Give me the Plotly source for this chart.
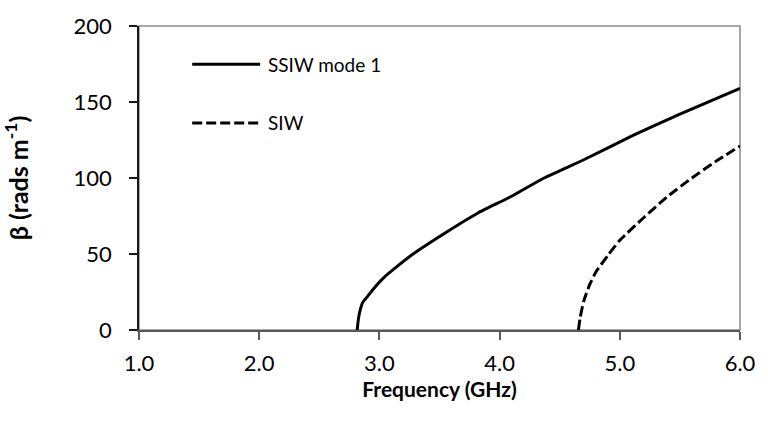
import plotly.graph_objects as go

# ---- data ----
ssiw_freq = [2.815, 2.825, 2.84, 2.86, 2.90, 2.95, 3.03, 3.15, 3.28, 3.55, 3.82, 4.10, 4.37, 4.70, 5.11, 5.50, 6.00]
ssiw_beta = [0, 7, 13, 18, 22, 27, 34, 42, 50, 64, 77, 88, 100, 112, 128, 142, 159]
siw_freq = [4.656, 4.67, 4.70, 4.75, 4.80, 4.90, 5.00, 5.20, 5.40, 5.60, 5.80, 6.00]
siw_beta = [0, 8, 19, 30, 38, 49, 59, 74, 88, 100, 111, 121]
series_names = ["SSIW mode 1", "SIW"]
x_ticks = [1.0, 2.0, 3.0, 4.0, 5.0, 6.0]
y_ticks = [0, 50, 100, 150, 200]

FONT = "Lato, 'Open Sans', sans-serif"

fig = go.Figure()
fig.add_trace(go.Scatter(x=ssiw_freq, y=ssiw_beta, mode="lines", name=series_names[0],
                         line=dict(color="black", width=3, shape="spline", smoothing=0.5),
                         showlegend=False))
fig.add_trace(go.Scatter(x=siw_freq, y=siw_beta, mode="lines", name=series_names[1],
                         line=dict(color="black", width=3, dash="10px,4px", shape="spline", smoothing=0.5),
                         showlegend=False))

# plot-area border (grey) drawn beneath the axes
fig.add_shape(type="rect", xref="paper", yref="paper", x0=0, x1=1, y0=0, y1=1,
              line=dict(color="#8c8c8c", width=1.5), layer="below")

# legend keys
leg_x0, leg_x1, leg_tx = 0.0885, 0.2016, 0.2115
leg_y = [0.874, 0.681]
dashes = ["solid", "10px,4px"]
for name, yy, d in zip(series_names, leg_y, dashes):
    fig.add_shape(type="line", xref="paper", yref="paper", x0=leg_x0, x1=leg_x1, y0=yy, y1=yy,
                  line=dict(color="black", width=3, dash=d))
    fig.add_annotation(xref="paper", yref="paper", x=leg_tx, y=yy, text=name, showarrow=False,
                       xanchor="left", yanchor="middle", font=dict(family=FONT, size=19, color="black"))

fig.update_layout(
    width=768, height=428,
    margin=dict(l=139, r=19, t=23, b=98),
    paper_bgcolor="white", plot_bgcolor="white",
    font=dict(family=FONT, size=22, color="black"),
)
fig.update_xaxes(range=[1, 6], tickvals=x_ticks, tickformat=".1f", showgrid=False, zeroline=False,
                 showline=True, linecolor="#595959", linewidth=2,
                 ticks="outside", ticklen=8, tickcolor="#595959", tickwidth=1.5,
                 ticklabelstandoff=5,
                 tickfont=dict(family=FONT, size=22, color="black"),
                 title=dict(text="<b>Frequency (GHz)</b>", standoff=6,
                            font=dict(family=FONT, size=21, color="black")))
fig.update_yaxes(range=[0, 200], tickvals=y_ticks, showgrid=False, zeroline=False,
                 showline=True, linecolor="#1a1a1a", linewidth=1.5,
                 ticks="outside", ticklen=8, tickcolor="#1a1a1a", tickwidth=1.5,
                 ticklabelstandoff=13,
                 tickfont=dict(family=FONT, size=22, color="black"),
                 title=dict(text="<b>β (rads m<sup>-1</sup>)</b>", standoff=40,
                            font=dict(family=FONT, size=25, color="black")))

fig.write_html("out.html")
